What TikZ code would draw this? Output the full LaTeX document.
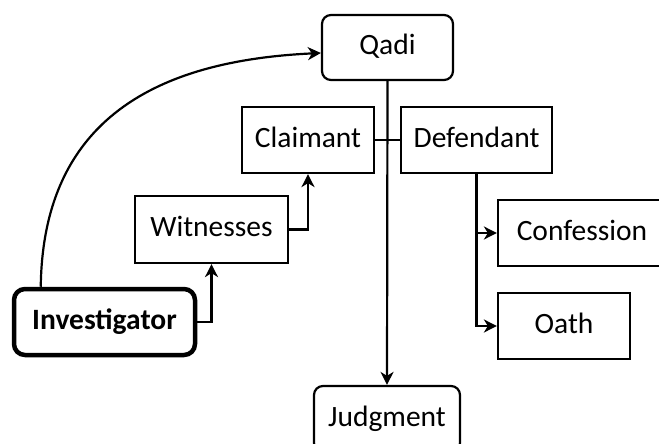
\documentclass[tikz,border=0pt]{standalone}
\usepackage{fontspec}
\setmainfont{Carlito}
\usetikzlibrary{arrows.meta}
\begin{document}
\begin{tikzpicture}[x=1pt,y=-1pt,
  box/.style={draw, line width=2.2pt, inner sep=0pt, minimum height=66pt,
    text height=19pt, text depth=4.5pt, font=\fontsize{29.5}{35}\selectfont},
  rbox/.style={box, rounded corners=9pt},
  ln/.style={line width=2.2pt},
  arr/.style={ln, -{Stealth[length=13pt,width=13pt,inset=4pt]}}]
\useasboundingbox (0,0) rectangle (659,444);
\clip (0,0) rectangle (659,444);
\node[rbox, minimum width=131pt, minimum height=65pt] (qadi) at (387.5,47.5) {Qadi};
\node[box, minimum width=132pt] (cla) at (308,140) {Claimant};
\node[box, minimum width=151pt] (def) at (476.5,140) {Defendant};
\node[box, minimum width=153pt, minimum height=67pt] (wit) at (211.5,229.5) {Witnesses};
\node[rbox, line width=4.5pt, rounded corners=11pt, minimum width=181pt, minimum height=66pt, font=\fontsize{29.5}{35}\selectfont\bfseries] (inv) at (104.5,322) {Investigator};
\node[box, minimum width=168pt] (conf) at (582,233) {Confession};
\node[box, minimum width=132pt] (oath) at (564,326) {Oath};
\node[rbox, minimum width=146pt] (jud) at (387,419) {Judgment};

\draw[arr] (qadi.south) -- (jud.north);
\draw[ln] (cla.east) -- (def.west);
\draw[arr] (def.south) |- (conf.west);
\draw[arr] (def.south) |- (oath.west);
\draw[arr] (wit.east) -| (cla.south);
\draw[arr] (inv.east) -| (wit.south);
\draw[arr] ([xshift=29pt]inv.north west) .. controls (43,110) and (170,60) .. ([yshift=-5.5pt]qadi.west);
\end{tikzpicture}
\end{document}
